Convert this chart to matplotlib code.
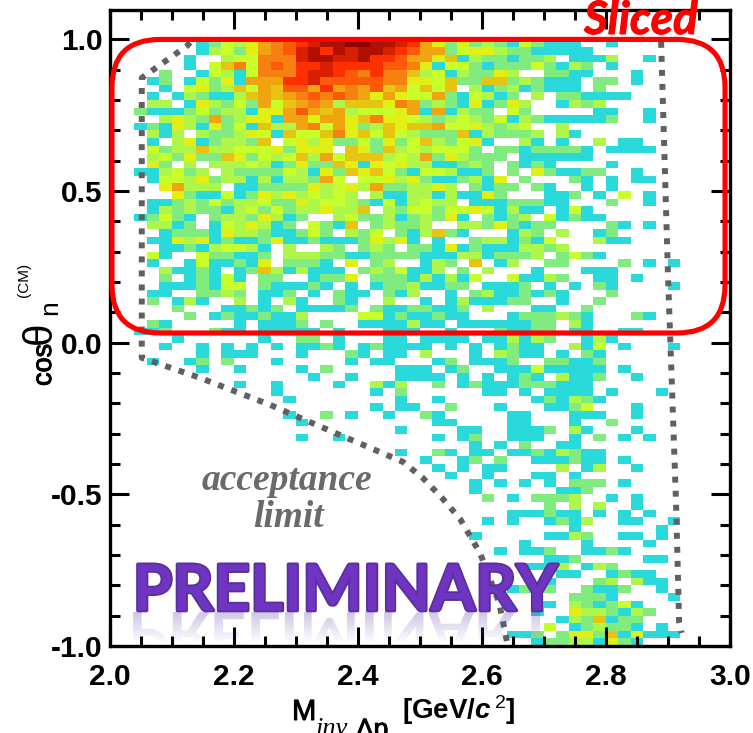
import numpy as np
import matplotlib
matplotlib.use("Agg")
import matplotlib.pyplot as plt
import matplotlib.patheffects as pe
from matplotlib.colors import ListedColormap, BoundaryNorm
from matplotlib.patches import FancyBboxPatch, PathPatch
from matplotlib.textpath import TextPath
from matplotlib.font_manager import FontProperties
from matplotlib.ticker import MultipleLocator
from matplotlib.transforms import Affine2D

plt.rcParams['font.family'] = ['Liberation Sans', 'DejaVu Sans']
plt.rcParams['mathtext.fontset'] = 'custom'
plt.rcParams['mathtext.rm'] = 'Liberation Sans'
plt.rcParams['mathtext.it'] = 'Liberation Sans:italic:bold'
plt.rcParams['mathtext.bf'] = 'Liberation Sans:bold'

# Histogram cells, top row first, one hex digit per cell (0 = empty)
hist_rows = [
    "0000000124 35789abccd dccba75252 3214211100 1",
    "0000000134 25789bcacb ccba977245 5322111110",
    "0000001003 44888bccbb caa9775613 2212230111 3001",
    "0000001046 84898aabaa aa99851442 1222421320 1",
    "0000200143 14888abba9 8a88634132 2530022110 001",
    "0001201425 1777aab999 9988554622 6623211102 201",
    "0000104523 6476997a78 7967464603 1231211102",
    "0001013211 3676789898 7575447214 3120302211 11",
    "0003301532 4274678736 6658723215 1253001323",
    "0021112423 3155797673 4445717132 2042000001 1001",
    "0000353272 3551775775 6855432343 2413211111 2001",
    "0012153152 4163378475 2365667445 3234003",
    "0003130322 3541644685 6464322261 32223031",
    "0001035123 3260453522 4252463245 1003101003 011",
    "0004233633 4445255506 5263434442 0221222210 1111",
    "0003425226 5243463746 6634372532 220111111",
    "0005203033 3431252265 1545331123 2021210000 1",
    "0011342303 2222431526 5642144311 2020521122 001",
    "0001443523 3131332740 4453521123 1502000210 1011",
    "0000573330 1122225345 3722335302 1220210010 1",
    "0000052114 1253534343 0311331311 5200011201 0401",
    "0001123242 3342253443 2141343301 1122211000 2001",
    "0001323221 3424233533 6032442445 413110141",
    "0012421023 3253120034 2231232510 2123041211",
    "0003312014 3531204216 0232230033 2521220000 2101",
    "0000122215 3321124203 2402136210 0013203001 2",
    "0001153512 1125112111 2535101002 3312140003 11",
    "0000112134 4310300320 2320221512 1113323",
    "0004100422 1120333221 1222211133 1222302421",
    "0001001411 2150222105 0230013206 0130022000 020101",
    "0000311210 1263131110 2324113020 3000100011 1",
    "0000201214 1022001225 0222131314 0041132001 101",
    "0000111214 4021112101 0122311220 1112010102 100001",
    "0001100223 2011201021 1021300102 3112121000 2",
    "0002013100 3010310021 0030010131 1122001002",
    "0000020001 1212011112 0211221120 300011002",
    "0000002012 1121130000 4412112110 0012223210 0021",
    "0002100000 1011120200 1111311011 111122031",
    "0011200021 1011111010 0011100100 0211220110 011",
    "0000010000 0010022010 0011011110 1131320013 1",
    "0000100101 0101011210 1211110101 0121100314 010001",
    "0000000101 1100010002 1011030001 0321101021",
    "0001001202 0001000001 0110001201 1120022112",
    "0000000100 1000010200 0001110120 0111411111 01",
    "0000000000 0000001001 0001111010 1012103112 001",
    "0000000000 1001000010 0313002012 1112221110",
    "0000000000 0001000000 0102000000 1101011110 10001",
    "0000000000 0000100000 0001001000 0000121321",
    "0000000000 0000000000 0101100200 0100011240 001",
    "0000000000 0000100201 0010021000 0011000111 001",
    "0000000000 0000010000 0000001100 0011000100 2",
    "0000000000 0000000000 0001000011 0011120310 001",
    "0000000000 0000010010 0000001012 0011100102 0101",
    "0000000000 0000000000 0000000001 0102001100",
    "0000000000 0000000000 0001002101 1011213211",
    "0000000000 0000000000 0000010012 0200111211 01",
    "0000000000 0000000000 0000001010 1100003013 001",
    "0000000000 0000000000 0000000100 1000110100",
    "0000000000 0000000000 0000000001 0101010222 01",
    "0000000000 0000000000 0000000001 0000001120",
    "0000000000 0000000000 0000000000 2010222300 101",
    "0000000000 0000000000 0000000000 0000020303 001",
    "0000000000 0000000000 0000000000 0011121101 0101",
    "0000000000 0000000000 0000000000 1010012130 011001",
    "0000000000 0000000000 0000000000 0000000100 00001",
    "0000000000 0000000000 0000000001 0000011320 01101",
    "0000000000 0000000000 0000000000 0001000010 0001",
    "0000000000 0000000000 0000000000 0101120011 21",
    "0000000000 0000000000 0000000000 0000011200 00011",
    "0000000000 0000000000 0000000000 0001113013 2",
    "0000000000 0000000000 0000000000 0000001100 1211",
    "0000000000 0000000000 0000000000 0000010002 30311",
    "0000000000 0000000000 0000000000 0012220021 12001",
    "0000000000 0000000000 0000000000 0000000222 100001",
    "0000000000 0000000000 0000000000 0000110321 241",
    "0000000000 0000000000 0000000000 0000100533 2132",
    "0000000000 0000000000 0000000000 0000001326 122",
    "0000000000 0000000000 0000000000 0000040123 22101",
    "0000000000 0000000000 0000000000 0011202552 615111",
    "0000000000 0000000000 0000000000 0000122331 521",
]
level_colors = ['#2ad9d9', '#80ec80', '#aef74a', '#c8ff2a', '#e2ef14', '#e8c412', '#f0a410',
                '#f88010', '#fb5a08', '#ff3000', '#d82000', '#b01000', '#900000']

# Acceptance limit
limit_left_x = [2.130, 2.125, 2.052, 2.052, 2.146, 2.259, 2.371, 2.473, 2.505, 2.536, 2.565, 2.597, 2.628, 2.641]
limit_left_y = [0.990, 0.979, 0.873, -0.050, -0.116, -0.205, -0.304, -0.393, -0.446, -0.512, -0.581, -0.693, -0.858, -0.990]
limit_right_x = [2.889, 2.900, 2.913, 2.918, 2.922]
limit_right_y = [0.992, 0.227, -0.525, -0.921, -0.957]

x_ticks = [2.0, 2.2, 2.4, 2.6, 2.8, 3.0]
y_ticks = [-1.0, -0.5, 0.0, 0.5, 1.0]

W, H = 753, 733
fig = plt.figure(figsize=(W / 100, H / 100), dpi=100)
ax = fig.add_axes([109.5 / W, 1 - 646 / H, 620.5 / W, 636 / H])

# Build the cell grid, bottom row first for pcolormesh
cells = np.zeros((len(hist_rows), 50))
for r, row in enumerate(hist_rows):
    row = row.replace(" ", "").ljust(50, "0")
    cells[r] = [int(c, 16) for c in row]
cells = np.ma.masked_equal(cells[::-1], 0)
x_edges = np.linspace(2.0, 3.0, 51)
y_edges = np.linspace(-1.0, 1.0, 81)
cmap = ListedColormap(level_colors)
norm = BoundaryNorm(np.arange(0.5, 14.5), cmap.N)
ax.pcolormesh(x_edges, y_edges, cells, cmap=cmap, norm=norm, linewidth=0)

ax.plot(limit_left_x, limit_left_y, color='#606060', lw=4.3, ls=(0, (1, 1.35)), zorder=4)
ax.plot(limit_right_x, limit_right_y, color='#606060', lw=4.3, ls=(0, (1, 1.35)), zorder=4)

ax.set_xlim(2.0, 3.0)
ax.set_ylim(-1.0, 1.097)
ax.set_xticks(x_ticks)
ax.set_yticks(y_ticks)
ax.set_xticklabels([f"{t:.1f}" for t in x_ticks], fontsize=21.5, fontweight='bold')
ax.set_yticklabels([f"{t:.1f}" for t in y_ticks], fontsize=21.5, fontweight='bold')
ax.xaxis.set_minor_locator(MultipleLocator(0.05))
ax.yaxis.set_minor_locator(MultipleLocator(0.1))
ax.tick_params(which='major', direction='in', length=13.5, width=2.2, top=True, right=True)
ax.tick_params(which='minor', direction='in', length=7, width=2.2, top=True, right=True)
ax.tick_params(axis='x', which='major', pad=12)
ax.tick_params(axis='y', which='major', pad=5)
for spine in ax.spines.values():
    spine.set_linewidth(2.4)

# Red box around the sliced region
ax.add_patch(FancyBboxPatch((2.004, 0.032), 0.988, 0.968, boxstyle="round,pad=0,rounding_size=0.0774",
                            mutation_aspect=2.046, fill=False, edgecolor='#ff0000', lw=3.7,
                            clip_on=False, zorder=6))


def px_text(x, y, s, **kw):
    # text placed in picture pixels, y measured from the top
    return fig.text(x / W, 1 - y / H, s, **kw)


heavier = [pe.withStroke(linewidth=0.7, foreground='black')]

px_text(641, 34, "Sliced", color='#ff0000', fontsize=33, fontweight='bold', fontstyle='italic',
        family=['Lato', 'Liberation Sans'], ha='center', va='baseline', zorder=7,
        path_effects=[pe.withStroke(linewidth=0.7, foreground='#ff0000')])

px_text(287, 490, "acceptance", color='#6a6a6a', fontsize=27, fontweight='bold', fontstyle='italic',
        family=['Liberation Serif'], ha='center', va='baseline', zorder=7)
px_text(288, 527, "limit", color='#6a6a6a', fontsize=27, fontweight='bold', fontstyle='italic',
        family=['Liberation Serif'], ha='center', va='baseline', zorder=7)

# PRELIMINARY with its faded mirror image underneath
px_text(345, 610.5, "PRELIMINARY", color='#7035c0', fontsize=46, fontweight='bold',
        family=['Lato', 'Liberation Sans'], ha='center', va='baseline', zorder=8,
        path_effects=[pe.withStroke(linewidth=2.6, foreground='#58309e')])

over = fig.add_axes([0, 0, 1, 1], facecolor='none', zorder=5)
over.axis('off')
mirror = TextPath((0, 0), "PRELIMINARY", size=66, prop=FontProperties(family='Lato', weight='bold'))
box = mirror.get_extents()
sx = 424 / box.width
patch = PathPatch(mirror, transform=Affine2D().translate(-box.x0, 0).scale(sx, 1).translate(133, 612) + over.transData,
                  facecolor='none', edgecolor='none')
over.add_patch(patch)
fade = np.zeros((50, 2, 4))
fade[..., :3] = matplotlib.colors.to_rgb('#6c4ab0')
fade[..., 3] = np.linspace(0.32, 0.0, 50)[:, None]
img = over.imshow(fade, extent=(130, 560, 644, 612), aspect='auto', zorder=3)
img.set_clip_path(patch)
over.set_xlim(0, W)
over.set_ylim(H, 0)

# Axis titles are placed piece by piece
rot = dict(rotation=90, ha='left', va='baseline', rotation_mode='anchor')
px_text(51, 386, "cos", fontsize=19.5, path_effects=heavier, **rot)
px_text(51, 344, "θ", fontsize=29, **rot)
px_text(57, 315, "n", fontsize=19, **rot)
px_text(28, 297, "(CM)", fontsize=11, **rot)

px_text(292, 720, "M", fontsize=21, va='baseline', path_effects=heavier)
px_text(316, 735, "inv", fontsize=19, fontstyle='italic', family=['Liberation Serif'], va='baseline')
px_text(356, 737, "Λp", fontsize=19, va='baseline', path_effects=heavier)
px_text(402, 719, r"[GeV/$\mathit{c}^{\,2}$]", fontsize=20, fontweight='bold', va='baseline')

fig.savefig("out.png", dpi=100)
plt.close(fig)
